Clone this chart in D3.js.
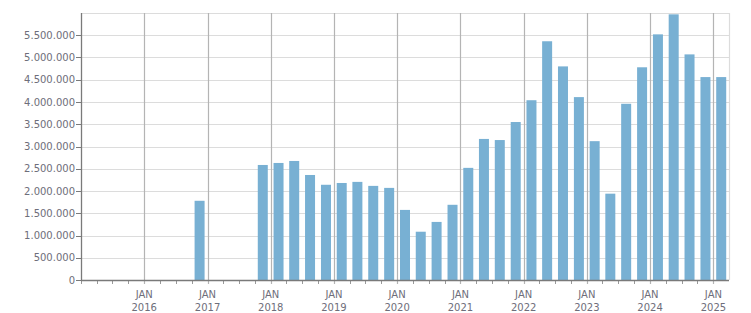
<!DOCTYPE html>
<html>
<head>
<meta charset="utf-8">
<script src="https://cdn.jsdelivr.net/npm/d3@7"></script>
<style>
  body { margin: 0; background: #fff; }
  svg { display: block; font-family: "DejaVu Sans", Verdana, sans-serif; }
</style>
</head>
<body>
<svg id="chart" width="751" height="313"></svg>
<script>
// quarter start dates (only quarters with data)
const quarters = [
  "2016-10-01",
  "2017-10-01",
  "2018-01-01", "2018-04-01", "2018-07-01", "2018-10-01",
  "2019-01-01", "2019-04-01", "2019-07-01", "2019-10-01",
  "2020-01-01", "2020-04-01", "2020-07-01", "2020-10-01",
  "2021-01-01", "2021-04-01", "2021-07-01", "2021-10-01",
  "2022-01-01", "2022-04-01", "2022-07-01", "2022-10-01",
  "2023-01-01", "2023-04-01", "2023-07-01", "2023-10-01",
  "2024-01-01", "2024-04-01", "2024-07-01", "2024-10-01",
  "2025-01-01"
];
const values = [
  1780000,
  2585000,
  2630000, 2675000, 2360000, 2140000,
  2180000, 2205000, 2115000, 2070000,
  1575000, 1085000, 1305000, 1690000,
  2520000, 3170000, 3145000, 3550000,
  4040000, 5365000, 4800000, 4110000,
  3120000, 1940000, 3960000, 4780000,
  5520000, 5970000, 5070000, 4560000,
  4560000
];
const yTicks = [0, 500000, 1000000, 1500000, 2000000, 2500000, 3000000,
  3500000, 4000000, 4500000, 5000000, 5500000];
const years = [2016, 2017, 2018, 2019, 2020, 2021, 2022, 2023, 2024, 2025];

const svg = d3.select("#chart");
const margin = { top: 13, right: 22, bottom: 33, left: 81 };
const width = 751, height = 313;

const parse = d3.utcParse("%Y-%m-%d");
const data = quarters.map((q, i) => {
  const start = parse(q);
  const end = d3.utcMonth.offset(start, 3);
  return { mid: new Date((+start + +end) / 2), value: values[i] };
});

const x = d3.scaleUtc()
  .domain([Date.UTC(2015, 0, 1), Date.UTC(2025, 3, 1)])
  .range([margin.left, width - margin.right]);

const y = d3.scaleLinear()
  .domain([0, 6000000])
  .range([height - margin.bottom, margin.top]);

const fmt = d3.formatLocale({ decimal: ",", thousands: ".", grouping: [3], currency: ["", ""] }).format(",.0f");

// horizontal grid
svg.append("g")
  .selectAll("line")
  .data(yTicks.concat([6000000]))
  .join("line")
  .attr("x1", margin.left)
  .attr("x2", width - margin.right)
  .attr("y1", (d) => Math.round(y(d)) + 0.5)
  .attr("y2", (d) => Math.round(y(d)) + 0.5)
  .attr("stroke", "#dcdcdc")
  .attr("stroke-width", 1.2);

// right border
svg.append("line")
  .attr("x1", width - margin.right + 0.5)
  .attr("x2", width - margin.right + 0.5)
  .attr("y1", margin.top)
  .attr("y2", height - margin.bottom)
  .attr("stroke", "#dcdcdc")
  .attr("stroke-width", 1.2);

// quarter minor ticks
const quarterTicks = d3.utcMonth.every(3).range(x.domain()[0], x.domain()[1]);
svg.append("g")
  .selectAll("line")
  .data(quarterTicks)
  .join("line")
  .attr("x1", (d) => Math.round(x(d)) + 0.5)
  .attr("x2", (d) => Math.round(x(d)) + 0.5)
  .attr("y1", height - margin.bottom)
  .attr("y2", height - margin.bottom + 4)
  .attr("stroke", "#999");

// year gridlines
const yearDates = years.map((yr) => new Date(Date.UTC(yr, 0, 1)));
svg.append("g")
  .selectAll("line")
  .data(yearDates)
  .join("line")
  .attr("x1", (d) => Math.round(x(d)) + 0.5)
  .attr("x2", (d) => Math.round(x(d)) + 0.5)
  .attr("y1", margin.top)
  .attr("y2", height - margin.bottom + 4)
  .attr("stroke", "#b4b4b4")
  .attr("stroke-width", 1.2);

// bars
svg.append("g")
  .selectAll("rect")
  .data(data)
  .join("rect")
  .attr("x", (d) => x(d.mid) - 5)
  .attr("width", 10)
  .attr("y", (d) => y(d.value))
  .attr("height", (d) => y(0) - y(d.value))
  .attr("fill", "#78b0d3");

// axes lines
svg.append("line")
  .attr("x1", margin.left + 0.5).attr("x2", margin.left + 0.5)
  .attr("y1", margin.top).attr("y2", height - margin.bottom + 1)
  .attr("stroke", "#7a7a7a").attr("stroke-width", 1.3);
svg.append("line")
  .attr("x1", margin.left).attr("x2", width - margin.right)
  .attr("y1", y(0) + 0.5).attr("y2", y(0) + 0.5)
  .attr("stroke", "#7a7a7a").attr("stroke-width", 1.3);

// y ticks + labels
const yg = svg.append("g");
yg.selectAll("line")
  .data(yTicks)
  .join("line")
  .attr("x1", margin.left - 5)
  .attr("x2", margin.left)
  .attr("y1", (d) => Math.round(y(d)) + 0.5)
  .attr("y2", (d) => Math.round(y(d)) + 0.5)
  .attr("stroke", "#7a7a7a");
yg.selectAll("text")
  .data(yTicks)
  .join("text")
  .attr("x", margin.left - 6)
  .attr("y", (d) => y(d))
  .attr("dy", "0.35em")
  .attr("text-anchor", "end")
  .attr("font-size", "10px")
  .attr("fill", "#6e6e7a")
  .text((d) => fmt(d));

// x labels
const xl = svg.append("g")
  .selectAll("text")
  .data(yearDates)
  .join("text")
  .attr("text-anchor", "middle")
  .attr("font-size", "10px")
  .attr("fill", "#6e6e7a");
xl.append("tspan")
  .attr("x", (d) => x(d))
  .attr("y", 298)
  .text("JAN");
xl.append("tspan")
  .attr("x", (d) => x(d))
  .attr("y", 311)
  .text((d) => d.getUTCFullYear());
</script>
</body>
</html>
